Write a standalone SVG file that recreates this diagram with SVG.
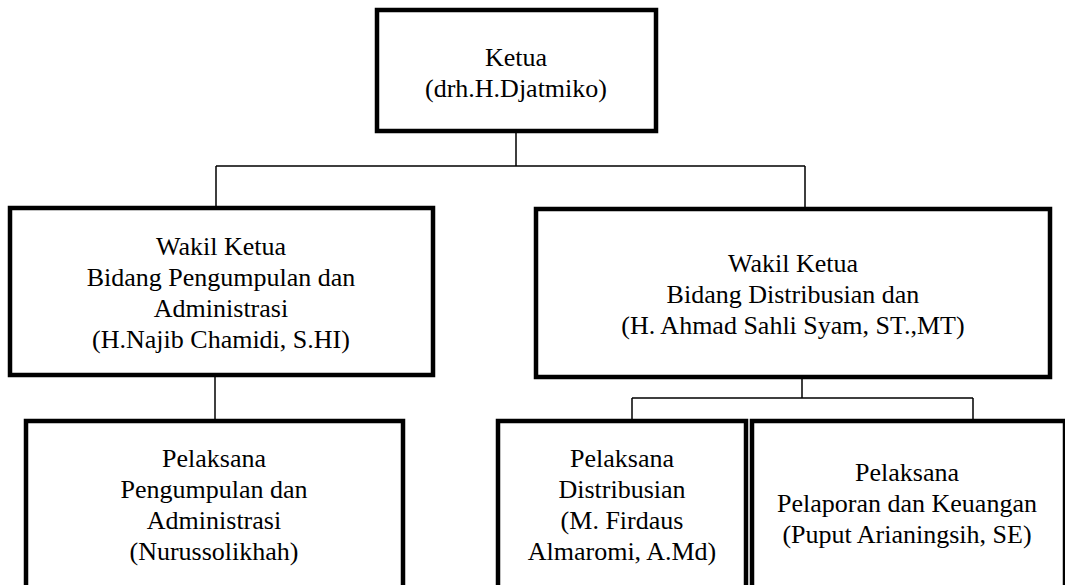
<svg xmlns="http://www.w3.org/2000/svg" width="1065" height="585" viewBox="0 0 1065 585">
<style>
.box{fill:#fff;stroke:#000;stroke-width:4.5}
.ln{fill:none;stroke:#000;stroke-width:1.5}
</style>
<rect width="1065" height="585" fill="#fff"/>
<g id="connectors">
<path class="ln" d="M516 131V166M216 166H805M216 166V208M805 166V208"/>
<path class="ln" d="M215 375V421"/>
<path class="ln" d="M802 377V398M632 398H973M632 398V421M973 398V421"/>
</g>
<g id="ketua" font-family="Liberation Serif, serif" font-size="26" text-anchor="middle" fill="#000">
<rect class="box" x="377" y="10" width="279" height="121"/>
<text x="516" y="66">Ketua</text>
<text x="516" y="97">(drh.H.Djatmiko)</text>
</g>
<g id="wakil1" font-family="Liberation Serif, serif" font-size="26" text-anchor="middle" fill="#000">
<rect class="box" x="10" y="208" width="423" height="167"/>
<text x="221" y="255">Wakil Ketua</text>
<text x="221" y="286">Bidang Pengumpulan dan</text>
<text x="221" y="317">Administrasi</text>
<text x="221" y="348">(H.Najib Chamidi, S.HI)</text>
</g>
<g id="wakil2" font-family="Liberation Serif, serif" font-size="26" text-anchor="middle" fill="#000">
<rect class="box" x="536" y="209" width="514" height="168"/>
<text x="793" y="272">Wakil Ketua</text>
<text x="793" y="303">Bidang Distribusian dan</text>
<text x="793" y="334">(H. Ahmad Sahli Syam, ST.,MT)</text>
</g>
<g id="pelaksana1" font-family="Liberation Serif, serif" font-size="26" text-anchor="middle" fill="#000">
<rect class="box" x="26" y="421" width="377" height="180"/>
<text x="214" y="467">Pelaksana</text>
<text x="214" y="498">Pengumpulan dan</text>
<text x="214" y="529">Administrasi</text>
<text x="214" y="560">(Nurussolikhah)</text>
</g>
<g id="pelaksana2" font-family="Liberation Serif, serif" font-size="26" text-anchor="middle" fill="#000">
<rect class="box" x="498" y="421" width="248" height="180"/>
<text x="622" y="467">Pelaksana</text>
<text x="622" y="498">Distribusian</text>
<text x="622" y="529">(M. Firdaus</text>
<text x="622" y="560">Almaromi, A.Md)</text>
</g>
<g id="pelaksana3" font-family="Liberation Serif, serif" font-size="26" text-anchor="middle" fill="#000">
<rect class="box" x="752" y="421" width="313" height="180"/>
<text x="907" y="481">Pelaksana</text>
<text x="907" y="512">Pelaporan dan Keuangan</text>
<text x="907" y="543">(Puput Arianingsih, SE)</text>
</g>
</svg>
